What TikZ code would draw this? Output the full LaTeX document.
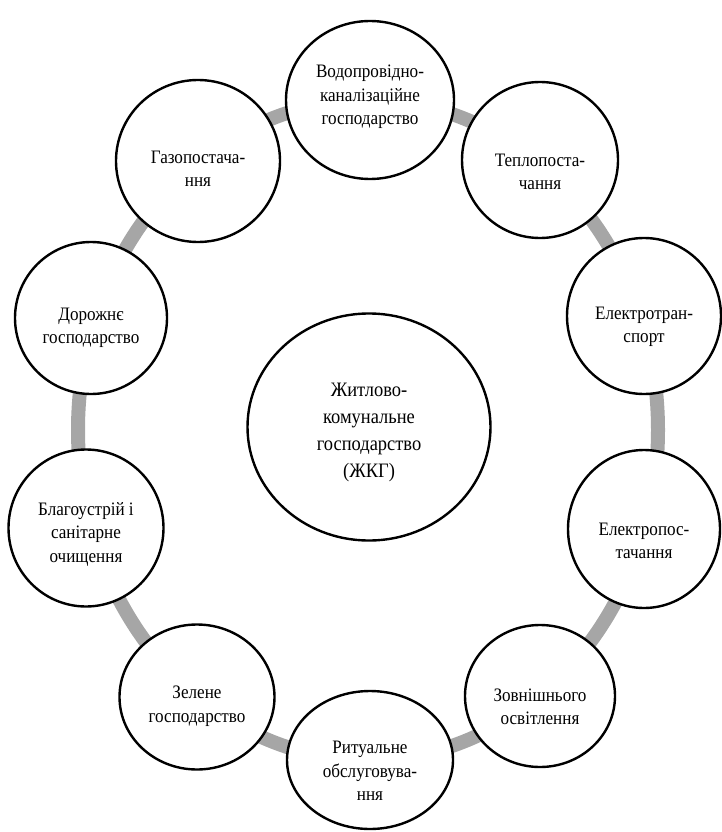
\documentclass[tikz,border=0pt]{standalone}
\usepackage{fontspec}
\setmainfont{Liberation Serif}[FakeStretch=0.9]
\usetikzlibrary{shapes.geometric}
\tikzset{
  x=1pt,y=-1pt,
  ring/.style={draw=black!35,line width=14pt},
  bub/.style={ellipse,draw=black,fill=white,line width=2.4pt,inner sep=0pt},
  lbl/.style={align=center,inner sep=0pt,font=\fontsize{19}{23.5}\selectfont},
  biglbl/.style={align=center,inner sep=0pt,font=\fontsize{20.5}{27}\selectfont}
}
\begin{document}
\begin{tikzpicture}
\useasboundingbox (0,0) rectangle (721,832);
\coordinate (rc) at (368,430);
\draw[ring] (rc) ellipse [x radius=290,y radius=330];
\node[bub,minimum width=243pt,minimum height=227pt] (c) at (369,427) {};
\node[bub,minimum width=168pt,minimum height=158pt] (w) at (370,100) {};
\node[bub,minimum width=156pt,minimum height=156pt] (t) at (540,160) {};
\node[bub,minimum width=154pt,minimum height=156pt] (et) at (644,316) {};
\node[bub,minimum width=152pt,minimum height=158pt] (ep) at (644,529) {};
\node[bub,minimum width=150pt,minimum height=142pt] (zo) at (540,696) {};
\node[bub,minimum width=166pt,minimum height=138pt] (r) at (370,760) {};
\node[bub,minimum width=155pt,minimum height=145pt] (z) at (197,697) {};
\node[bub,minimum width=155pt,minimum height=157pt] (b) at (86,528) {};
\node[bub,minimum width=152pt,minimum height=152pt] (d) at (91,318) {};
\node[bub,minimum width=164pt,minimum height=162pt] (g) at (198,161) {};
\node[biglbl] (ct) at ([yshift=-5pt]c.center) {Житлово-\\комунальне\\господарство\\(ЖКГ)};
\node[lbl] (wt) at ([yshift=3pt]w.center) {Водопровідно-\\каналізаційне\\господарство};
\node[lbl] (tt) at ([yshift=-12pt]t.center) {Теплопоста-\\чання};
\node[lbl] (ett) at ([yshift=-11pt]et.center) {Електротран-\\спорт};
\node[lbl] (ept) at ([yshift=-12pt]ep.center) {Електропос-\\тачання};
\node[lbl] (zot) at ([yshift=-11pt]zo.center) {Зовнішнього\\освітлення};
\node[lbl] (rt) at ([yshift=-11pt]r.center) {Ритуальне\\обслуговува-\\ння};
\node[lbl] (zt) at ([yshift=-9pt]z.center) {Зелене\\господарство};
\node[lbl] (bt) at ([yshift=-6pt]b.center) {Благоустрій і\\санітарне\\очищення};
\node[lbl] (dt) at ([yshift=-10pt]d.center) {Дорожнє\\господарство};
\node[lbl] (gt) at ([yshift=-8pt]g.center) {Газопостача-\\ння};
\end{tikzpicture}
\end{document}
